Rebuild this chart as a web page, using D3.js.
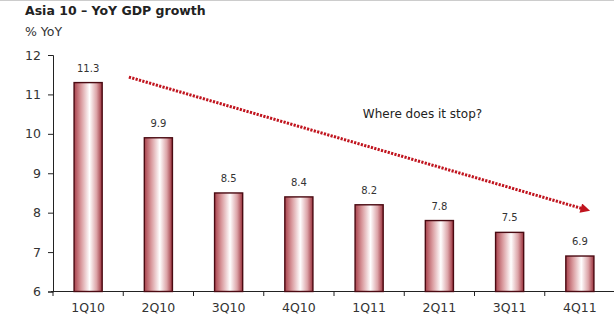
<!DOCTYPE html>
<html><head><meta charset="utf-8">
<script src="https://cdn.jsdelivr.net/npm/d3@7"></script>
<style>body{margin:0;background:#fff}svg{display:block;font-family:"DejaVu Sans",sans-serif}</style>
</head><body><div id="c"></div>
<script>
const categories = ["1Q10","2Q10","3Q10","4Q10","1Q11","2Q11","3Q11","4Q11"];
const values = [11.3, 9.9, 8.5, 8.4, 8.2, 7.8, 7.5, 6.9];
const yTicks = [6,7,8,9,10,11,12];
const title = "Asia 10 \u2013 YoY GDP growth";
const yLabel = "% YoY";
const annotation = "Where does it stop?";
// arrow in data terms: [category index position, value]
const arrowStart = [0.58, 11.44];
const arrowEnd = [7.04, 8.1];
const annotationPos = [4.76, 10.4];

const W = 614, H = 322;
const FONT = "DejaVu Sans, sans-serif";
const svg = d3.select("#c").append("svg").attr("width", W).attr("height", H);
const x = d3.scaleBand().domain(categories).range([53, 615]).paddingInner(0.6).paddingOuter(0.3);
const y = d3.scaleLinear().domain([6, 12]).range([291.5, 55]);
const step = x.step();
const xi = i => x(categories[0]) + x.bandwidth()/2 + i*step;

const defs = svg.append("defs");
const g = defs.append("linearGradient").attr("id","bg").attr("x1","0").attr("x2","1").attr("y1","0").attr("y2","0");
[[0,"#a8424c"],[0.25,"#d9999d"],[0.55,"#ffffff"],[0.8,"#dca3a7"],[1,"#9a303b"]].forEach(s=>g.append("stop").attr("offset",s[0]).attr("stop-color",s[1]));
const m = defs.append("marker").attr("id","ah").attr("viewBox","0 0 10 10").attr("refX",2).attr("refY",5)
  .attr("markerWidth",4).attr("markerHeight",3.2).attr("orient","auto").attr("markerUnits","strokeWidth");
m.append("path").attr("d","M0,0L10,5L0,10z").attr("fill","#c0141e");

svg.append("line").attr("x1",0).attr("x2",W).attr("y1",0.5).attr("y2",0.5).attr("stroke","#ccc");

svg.append("text").attr("x",25).attr("y",15).attr("font-size",12.5).attr("font-weight","bold").attr("fill","#222").text(title);
svg.append("text").attr("x",25).attr("y",36).attr("font-size",12.5).attr("fill","#333").text(yLabel);

// axes
const yAxis = svg.append("g").attr("transform","translate(53,0)")
  .call(d3.axisLeft(y).tickValues(yTicks).tickSize(5).tickPadding(7).tickFormat(d3.format("d")));
yAxis.select(".domain").attr("stroke","#222");
yAxis.selectAll(".tick line").attr("stroke","#222");
yAxis.selectAll("text").attr("font-size",12.5).attr("fill","#333").attr("font-family",FONT);

const xAxis = svg.append("g").attr("transform","translate(0,291.5)")
  .call(d3.axisBottom(x).tickSize(0).tickPadding(12));
xAxis.select(".domain").attr("stroke","#222").attr("d","M51,0H615");
xAxis.selectAll("text").attr("font-size",12.5).attr("fill","#333").attr("font-family",FONT);
// tick marks between categories
svg.append("g").selectAll("line").data(d3.range(0, categories.length+1)).join("line")
  .attr("x1", i => 53 + i*step).attr("x2", i => 53 + i*step)
  .attr("y1",291.5).attr("y2",296).attr("stroke","#222");

// bars
svg.append("g").selectAll("rect").data(values).join("rect")
  .attr("x",(d,i)=>x(categories[i])).attr("width",x.bandwidth())
  .attr("y",d=>y(d)).attr("height",d=>y(6)-y(d))
  .attr("fill","url(#bg)").attr("stroke","#4a0a12").attr("stroke-width",1.4);

svg.append("g").selectAll("text").data(values).join("text")
  .attr("x",(d,i)=>x(categories[i])+x.bandwidth()/2).attr("y",d=>y(d)-11)
  .attr("text-anchor","middle").attr("font-size",10).attr("fill","#333")
  .text(d=>d.toFixed(1));

// arrow
svg.append("line")
  .attr("x1",xi(arrowStart[0])).attr("y1",y(arrowStart[1]))
  .attr("x2",xi(arrowEnd[0])).attr("y2",y(arrowEnd[1]))
  .attr("stroke","#c0141e").attr("stroke-width",3).attr("stroke-dasharray","2.2,1.3")
  .attr("marker-end","url(#ah)");

svg.append("text").attr("x",xi(annotationPos[0])).attr("y",y(annotationPos[1]))
  .attr("text-anchor","middle").attr("font-size",12).attr("fill","#222").text(annotation);
</script></body></html>
